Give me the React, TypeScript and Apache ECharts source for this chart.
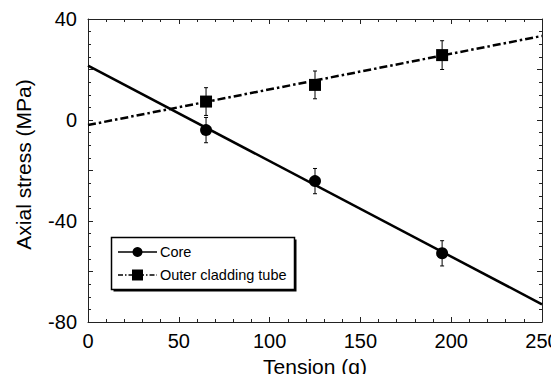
import React, { useEffect, useRef } from "react";
import * as echarts from "echarts";

const tension = [65, 125, 195];
const coreStress = [-4, -24.2, -52.8];
const coreErr = [5, 5, 5];
const outerStress = [7.3, 13.9, 25.7];
const outerErr = [5.5, 5.5, 5.7];
const fitX = [0, 250];
const coreFit = [21.5, -73];
const outerFit = [-2, 33.3];
const legendNames = ["Core", "Outer cladding tube"];

const FONT = "Liberation Sans, Arial, sans-serif";

function makeAxisX(pos: "bottom" | "top", labels: boolean) {
  return {
    type: "value",
    position: pos,
    min: 0,
    max: 250,
    interval: 50,
    name: labels ? "Tension (g)" : "",
    nameLocation: "middle",
    nameGap: 32,
    nameTextStyle: { fontFamily: FONT, fontSize: 21, color: "#000" },
    axisLine: { show: true, onZero: false, lineStyle: { color: "#222", width: 1 } },
    axisTick: { show: true, inside: true, length: 5, lineStyle: { color: "#222" } },
    minorTick: { show: true, splitNumber: 5, length: 3, lineStyle: { color: "#222" } },
    splitLine: { show: false },
    axisLabel: { show: labels, fontFamily: FONT, fontSize: 20, color: "#000", margin: 9, hideOverlap: false },
  };
}

function makeAxisY(pos: "left" | "right", labels: boolean) {
  return {
    type: "value",
    position: pos,
    min: -80,
    max: 40,
    interval: 20,
    name: labels ? "Axial stress (MPa)" : "",
    nameLocation: "middle",
    nameGap: 54,
    nameTextStyle: { fontFamily: FONT, fontSize: 21, color: "#000", padding: [0, 0, 0, 12] },
    axisLine: { show: true, onZero: false, lineStyle: { color: "#222", width: 1 } },
    axisTick: { show: true, inside: true, length: 5, lineStyle: { color: "#222" } },
    minorTick: { show: true, splitNumber: 4, length: 3, lineStyle: { color: "#222" } },
    splitLine: { show: false },
    axisLabel: {
      show: labels,
      fontFamily: FONT,
      fontSize: 20,
      color: "#000",
      margin: 11,
      formatter: (v: number) => (v % 40 === 0 ? String(v) : ""),
    },
  };
}

function errorSeries(values: number[], errs: number[]) {
  const data = tension.map((x, i) => [x, values[i] - errs[i], values[i] + errs[i]]);
  return {
    type: "custom",
    data,
    z: 3,
    renderItem: (params: any, api: any) => {
      const x = api.value(0);
      const lo = api.coord([x, api.value(1)]);
      const hi = api.coord([x, api.value(2)]);
      const cap = 2;
      const style = { stroke: "#000", lineWidth: 1 };
      return {
        type: "group",
        children: [
          { type: "line", shape: { x1: lo[0], y1: lo[1], x2: hi[0], y2: hi[1] }, style },
          { type: "line", shape: { x1: lo[0] - cap, y1: lo[1], x2: lo[0] + cap, y2: lo[1] }, style },
          { type: "line", shape: { x1: hi[0] - cap, y1: hi[1], x2: hi[0] + cap, y2: hi[1] }, style },
        ],
      };
    },
  };
}

export default function App() {
  const ref = useRef<HTMLDivElement>(null);
  useEffect(() => {
    if (!ref.current) return;
    const chart = echarts.init(ref.current, null, { renderer: "svg" });
    const lx = 118, rx = 157, y1 = 252, y2 = 275, mid = (lx + rx) / 2;
    chart.setOption({
      animation: false,
      backgroundColor: "#fff",
      grid: { left: 88, top: 19, right: 9, bottom: 52, containLabel: false, outerBoundsMode: "none" },
      xAxis: [makeAxisX("bottom", true), makeAxisX("top", false)],
      yAxis: [makeAxisY("left", true), makeAxisY("right", false)],
      series: [
        {
          type: "line",
          data: fitX.map((x, i) => [x, coreFit[i]]),
          showSymbol: false,
          lineStyle: { color: "#000", width: 2.5 },
          z: 2,
        },
        {
          type: "line",
          data: fitX.map((x, i) => [x, outerFit[i]]),
          showSymbol: false,
          lineStyle: { color: "#000", width: 2.5, type: [8, 3, 2.5, 3] },
          z: 2,
        },
        errorSeries(coreStress, coreErr),
        errorSeries(outerStress, outerErr),
        {
          type: "scatter",
          name: legendNames[0],
          data: tension.map((x, i) => [x, coreStress[i]]),
          symbol: "circle",
          symbolSize: 12,
          itemStyle: { color: "#000", opacity: 1 },
          z: 4,
        },
        {
          type: "scatter",
          name: legendNames[1],
          data: tension.map((x, i) => [x, outerStress[i]]),
          symbol: "rect",
          symbolSize: 12,
          itemStyle: { color: "#000", opacity: 1 },
          z: 4,
        },
      ],
      graphic: [
        { type: "rect", shape: { x: 113.5, y: 239.5, width: 183, height: 52 }, style: { fill: "#000" }, z: 10 },
        { type: "rect", shape: { x: 111.5, y: 237.5, width: 183, height: 52 }, style: { fill: "#fff", stroke: "#000", lineWidth: 1.5 }, z: 11 },
        { type: "line", shape: { x1: lx, y1: y1, x2: rx, y2: y1 }, style: { stroke: "#000", lineWidth: 1.5 }, z: 12 },
        { type: "circle", shape: { cx: mid, cy: y1, r: 5 }, style: { fill: "#000" }, z: 12 },
        { type: "line", shape: { x1: lx, y1: y2, x2: rx, y2: y2 }, style: { stroke: "#000", lineWidth: 1.5, lineDash: [5, 2, 1.5, 2] }, z: 12 },
        { type: "rect", shape: { x: mid - 5.5, y: y2 - 5.5, width: 11, height: 11 }, style: { fill: "#000" }, z: 12 },
        { type: "text", x: 160, y: y1, style: { text: legendNames[0], fontFamily: FONT, fontSize: 14.5, fill: "#000", verticalAlign: "middle" }, z: 12 },
        { type: "text", x: 160, y: y2, style: { text: legendNames[1], fontFamily: FONT, fontSize: 14.5, fill: "#000", verticalAlign: "middle" }, z: 12 },
      ],
    });
    return () => chart.dispose();
  }, []);
  return (
    <div
      ref={ref}
      style={{ position: "fixed", left: 0, top: 0, width: 551, height: 374, background: "#fff" }}
    />
  );
}
